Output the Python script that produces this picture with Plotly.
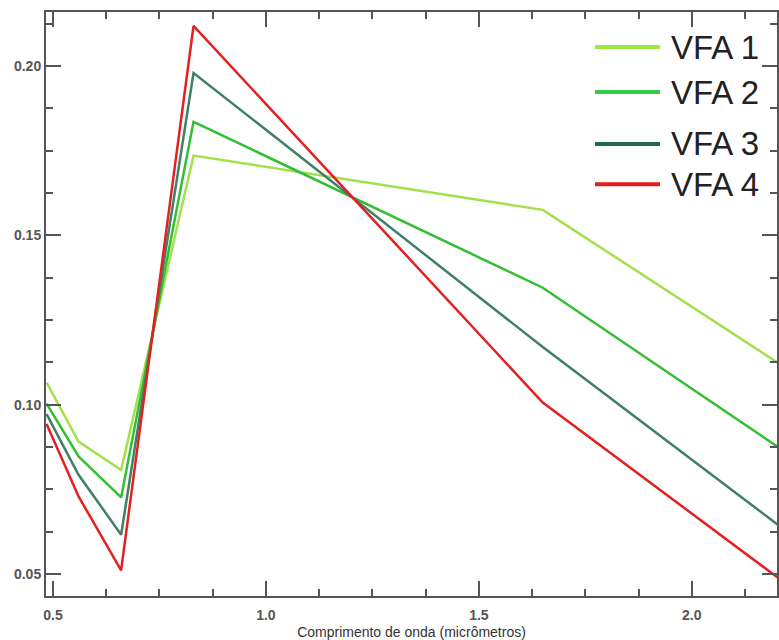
import plotly.graph_objects as go

wavelengths = [0.485, 0.56, 0.66, 0.83, 1.65, 2.215]
series_names = ["VFA 1", "VFA 2", "VFA 3", "VFA 4"]
vfa1 = [0.1065, 0.0891, 0.0807, 0.1735, 0.1575, 0.1113]
vfa2 = [0.1003, 0.0847, 0.0726, 0.1835, 0.1345, 0.0864]
vfa3 = [0.0972, 0.0793, 0.0616, 0.1979, 0.1170, 0.0633]
vfa4 = [0.0943, 0.0729, 0.0511, 0.2118, 0.1006, 0.0477]
series_values = [vfa1, vfa2, vfa3, vfa4]
line_colors = ["#a2e04c", "#33bf33", "#3f8066", "#e42020"]
legend_colors = ["#a0e83e", "#33cc44", "#1f6b45", "#e41e1e"]

x_title = "Comprimento de onda (micrômetros)"

fig = go.Figure()
for name, vals, col in zip(series_names, series_values, line_colors):
    fig.add_trace(go.Scatter(x=wavelengths, y=vals, mode="lines", name=name,
                             line=dict(color=col, width=2.5), showlegend=False))

# manual legend (paper coordinates)
leg_y = [0.940, 0.863, 0.774, 0.705]
for name, col, yy in zip(series_names, legend_colors, leg_y):
    fig.add_shape(type="line", xref="paper", yref="paper",
                  x0=0.751, x1=0.840, y0=yy, y1=yy,
                  line=dict(color=col, width=4))
    fig.add_annotation(xref="paper", yref="paper", x=0.852, y=yy,
                       text=name, showarrow=False, xanchor="left", yanchor="middle",
                       font=dict(family="Liberation Sans Narrow, Arial Narrow, Arial", size=33, color="#222"))

tick_font = dict(family="Arial, Liberation Sans", size=14, color="#555", weight="bold")
axis_common = dict(
    showline=True, linecolor="#555", linewidth=2, mirror="ticks",
    ticks="inside", ticklen=15, tickwidth=2, tickcolor="#555",
    showgrid=False, zeroline=False,
    tickfont=tick_font,
)

fig.update_xaxes(range=[0.4836, 2.2], tick0=0.5, dtick=0.5, tickformat=".1f",
                 ticklabelstandoff=5,
                 minor=dict(ticks="inside", dtick=0.125, tick0=0.5, ticklen=7, tickwidth=2, tickcolor="#555"),
                 title=dict(text=x_title, standoff=7, font=dict(family="Arial, Liberation Sans", size=14, color="#333")),
                 **axis_common)
fig.update_yaxes(range=[0.0435, 0.2159], tick0=0.05, dtick=0.05, tickformat=".2f",
                 minor=dict(ticks="inside", dtick=0.0125, tick0=0.05, ticklen=7, tickwidth=2, tickcolor="#555"),
                 **axis_common)

fig.update_layout(width=779, height=640, margin=dict(l=46, r=0, t=12, b=44),
                  plot_bgcolor="white", paper_bgcolor="white", showlegend=False)

fig.write_html("out.html")
